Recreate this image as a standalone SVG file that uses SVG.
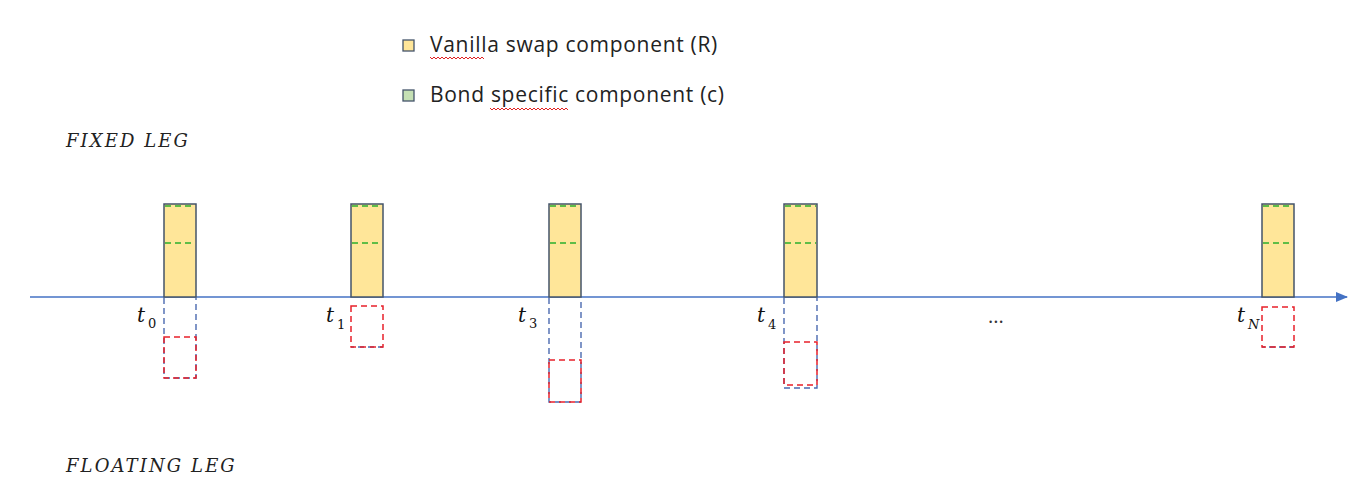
<svg xmlns="http://www.w3.org/2000/svg" width="1358" height="496" viewBox="0 0 1358 496">
<style>
.leg{font-family:"Open Sans","Noto Sans",sans-serif;font-size:21px;letter-spacing:0.7px;fill:#222}
.dots{font-family:"Open Sans","Noto Sans",sans-serif;font-size:20px;fill:#333}
.title{font-family:"DejaVu Serif","Liberation Serif",serif;font-style:italic;font-size:18px;letter-spacing:2.1px;fill:#222}
.t{font-family:"DejaVu Serif",serif;font-style:italic;font-size:20px;fill:#111}
.sub{font-family:"DejaVu Serif",serif;font-size:13px;fill:#111}
.subi{font-family:"DejaVu Serif",serif;font-style:italic;font-size:13px;fill:#111}
.bar{fill:#FFE699;stroke:#44546A;stroke-width:1.5}
.gd{stroke:#2DB02D;stroke-width:1.5;stroke-dasharray:6,4;fill:none}
.bd{stroke:#4A6AB0;stroke-width:1.4;stroke-dasharray:6,4;fill:none}
.rd{stroke:#E8202A;stroke-width:1.5;stroke-dasharray:6,4;fill:none}
.sq{fill:none;stroke:#E02020;stroke-width:1}
</style>
<defs>
<marker id="ah" markerWidth="12" markerHeight="10" refX="11" refY="5" orient="auto" markerUnits="userSpaceOnUse">
<path d="M0,0 L12,5 L0,10 Z" fill="#4472C4"/>
</marker>
</defs>

<g id="legend">
<rect x="403" y="40" width="11" height="11" fill="#FFE699" stroke="#44546A" stroke-width="1.3"/>
<text class="leg" x="430" y="52">Vanilla swap component (R)</text>
<path class="sq" d="M430,57 l2,2 l2,-2 l2,2 l2,-2 l2,2 l2,-2 l2,2 l2,-2 l2,2 l2,-2 l2,2 l2,-2 l2,2 l2,-2 l2,2 l2,-2 l2,2 l2,-2 l2,2 l2,-2 l2,2 l2,-2 l2,2 l2,-2 l2,2 l2,-2 l2,2"/>
<rect x="403" y="90" width="11" height="11" fill="#C5E0B4" stroke="#44546A" stroke-width="1.3"/>
<text class="leg" x="430" y="102">Bond specific component (c)</text>
<path class="sq" d="M490,108 l2,2 l2,-2 l2,2 l2,-2 l2,2 l2,-2 l2,2 l2,-2 l2,2 l2,-2 l2,2 l2,-2 l2,2 l2,-2 l2,2 l2,-2 l2,2 l2,-2 l2,2 l2,-2 l2,2 l2,-2 l2,2 l2,-2 l2,2 l2,-2 l2,2 l2,-2 l2,2 l2,-2 l2,2 l2,-2 l2,2 l2,-2 l2,2 l2,-2 l2,2 l2,-2 l2,2"/>
</g>

<g id="fixed-leg-label"><text class="title" x="66" y="147">FIXED LEG</text></g>
<g id="floating-leg-label"><text class="title" x="66" y="472">FLOATING LEG</text></g>

<g id="connectors">
<line x1="30" y1="297" x2="1347" y2="297" stroke="#4472C4" stroke-width="1.5" marker-end="url(#ah)"/>
</g>

<g id="node-t0">
<rect class="bar" x="164" y="204" width="32" height="93"/>
<line class="gd" x1="165" y1="206" x2="195" y2="206"/>
<line class="gd" x1="165" y1="243" x2="195" y2="243"/>
<path class="bd" d="M164,298 V378 H196 V298"/>
<rect class="rd" x="164" y="337" width="32" height="41"/>
<text class="t" x="137" y="322">t</text><text class="sub" x="148" y="328">0</text>
</g>

<g id="node-t1">
<rect class="bar" x="351" y="204" width="32" height="93"/>
<line class="gd" x1="352" y1="206" x2="382" y2="206"/>
<line class="gd" x1="352" y1="243" x2="382" y2="243"/>
<line class="bd" x1="351" y1="347" x2="383" y2="347" stroke-dashoffset="3"/>
<rect class="rd" x="351" y="306" width="32" height="41"/>
<text class="t" x="326" y="322">t</text><text class="sub" x="337" y="329">1</text>
</g>

<g id="node-t3">
<rect class="bar" x="549" y="204" width="32" height="93"/>
<line class="gd" x1="550" y1="206" x2="580" y2="206"/>
<line class="gd" x1="550" y1="243" x2="580" y2="243"/>
<path class="bd" d="M549,298 V402 H581 V298"/>
<rect class="rd" x="549" y="360" width="32" height="42"/>
<text class="t" x="518" y="322">t</text><text class="sub" x="529" y="328">3</text>
</g>

<g id="node-t4">
<rect class="bar" x="784" y="204" width="33" height="93"/>
<line class="gd" x1="785" y1="206" x2="816" y2="206"/>
<line class="gd" x1="785" y1="243" x2="816" y2="243"/>
<path class="bd" d="M784,298 V388 H817 V298"/>
<rect class="rd" x="784" y="342" width="33" height="43"/>
<text class="t" x="757" y="322">t</text><text class="sub" x="768" y="329">4</text>
</g>

<g id="ellipsis"><text class="dots" x="988" y="323">...</text></g>

<g id="node-tN">
<rect class="bar" x="1262" y="204" width="32" height="93"/>
<line class="gd" x1="1263" y1="206" x2="1293" y2="206"/>
<line class="gd" x1="1263" y1="243" x2="1293" y2="243"/>
<line class="bd" x1="1262" y1="347" x2="1294" y2="347" stroke-dashoffset="3"/>
<rect class="rd" x="1262" y="307" width="32" height="40"/>
<text class="t" x="1237" y="322">t</text><text class="subi" x="1248" y="329">N</text>
</g>
</svg>
